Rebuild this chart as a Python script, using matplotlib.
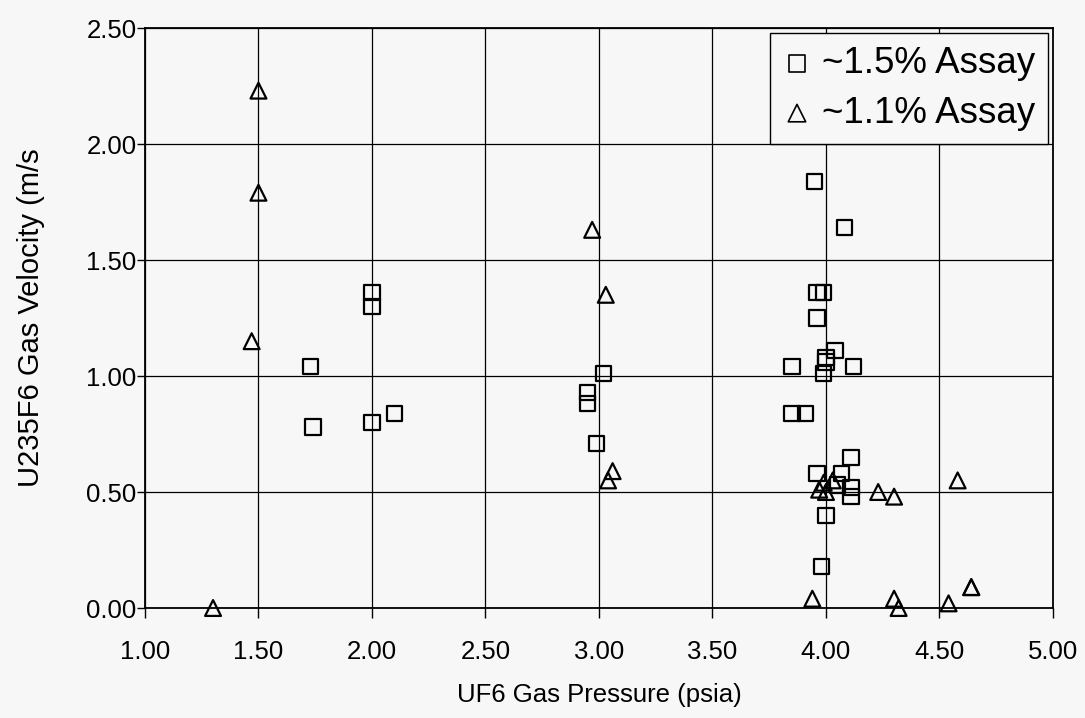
import matplotlib
matplotlib.use("Agg")
import matplotlib.pyplot as plt

# ~1.5% Assay (squares)
sq_x = [1.73, 1.74, 2.00, 2.00, 2.00, 2.10,
        2.95, 2.95, 3.02, 2.99,
        3.95, 4.08, 3.96, 3.99, 3.96,
        4.04, 4.00, 4.00, 3.99, 3.85, 4.12,
        3.85, 3.91, 4.11, 3.96, 4.07, 4.05, 4.11, 4.11, 4.00, 3.98]
sq_y = [1.04, 0.78, 1.36, 1.30, 0.80, 0.84,
        0.93, 0.88, 1.01, 0.71,
        1.84, 1.64, 1.36, 1.36, 1.25,
        1.11, 1.08, 1.06, 1.01, 1.04, 1.04,
        0.84, 0.84, 0.65, 0.58, 0.58, 0.53, 0.52, 0.48, 0.40, 0.18]

# ~1.1% Assay (triangles)
tr_x = [1.50, 1.50, 1.47, 1.30,
        2.97, 3.03, 3.06, 3.04,
        3.97, 4.00, 4.03, 3.99, 4.23, 4.30,
        3.94, 4.30, 4.32, 4.58, 4.64, 4.64, 4.54]
tr_y = [2.23, 1.79, 1.15, 0.00,
        1.63, 1.35, 0.59, 0.55,
        0.51, 0.50, 0.55, 0.54, 0.50, 0.48,
        0.04, 0.04, 0.00, 0.55, 0.09, 0.09, 0.02]

x_ticks = [1.0, 1.5, 2.0, 2.5, 3.0, 3.5, 4.0, 4.5, 5.0]
y_ticks = [0.0, 0.5, 1.0, 1.5, 2.0, 2.5]

bg = "#f7f7f7"
plt.rcParams['font.family'] = ['Liberation Sans', 'DejaVu Sans']

fig = plt.figure(figsize=(10.85, 7.18), dpi=100, facecolor=bg)
ax = fig.add_axes([0.1336, 0.1532, 0.9705 - 0.1336, 0.961 - 0.1532])
ax.set_facecolor(bg)

ax.scatter(sq_x, sq_y, marker='s', s=120, facecolors='none', edgecolors='black',
           linewidths=1.6, label='~1.5% Assay', zorder=3, clip_on=False)
ax.scatter(tr_x, tr_y, marker='^', s=130, facecolors='none', edgecolors='black',
           linewidths=1.6, label='~1.1% Assay', zorder=3, clip_on=False)

ax.set_xlim(1.0, 5.0)
ax.set_ylim(0.0, 2.5)
ax.set_xticks(x_ticks)
ax.set_yticks(y_ticks)
ax.set_xticklabels([f"{v:.2f}" for v in x_ticks])
ax.set_yticklabels([f"{v:.2f}" for v in y_ticks])
ax.tick_params(axis='both', labelsize=18.5, direction='out', width=1, color='black')
ax.tick_params(axis='x', length=7, pad=16)
ax.tick_params(axis='y', length=6, pad=0)
ax.grid(True, color='black', linewidth=0.9)
ax.set_axisbelow(True)
for sp in ax.spines.values():
    sp.set_color('black')
    sp.set_linewidth(1.3)

ax.set_xlabel("UF6 Gas Pressure (psia)", fontsize=18.5, labelpad=14)
ax.set_ylabel("U235F6 Gas Velocity (m/s", fontsize=21, labelpad=30)

leg = ax.legend(loc='upper right', fontsize=26.5, frameon=True, fancybox=False,
                edgecolor='black', facecolor=bg, framealpha=1, markerscale=1.1,
                handletextpad=0.3, borderpad=0.35, labelspacing=0.4,
                handlelength=0.75, borderaxespad=0.14)
leg.get_frame().set_linewidth(1.0)
for h in leg.legend_handles:
    h.set_linewidth(1.2)

fig.savefig("out.png", dpi=100, facecolor=bg)
